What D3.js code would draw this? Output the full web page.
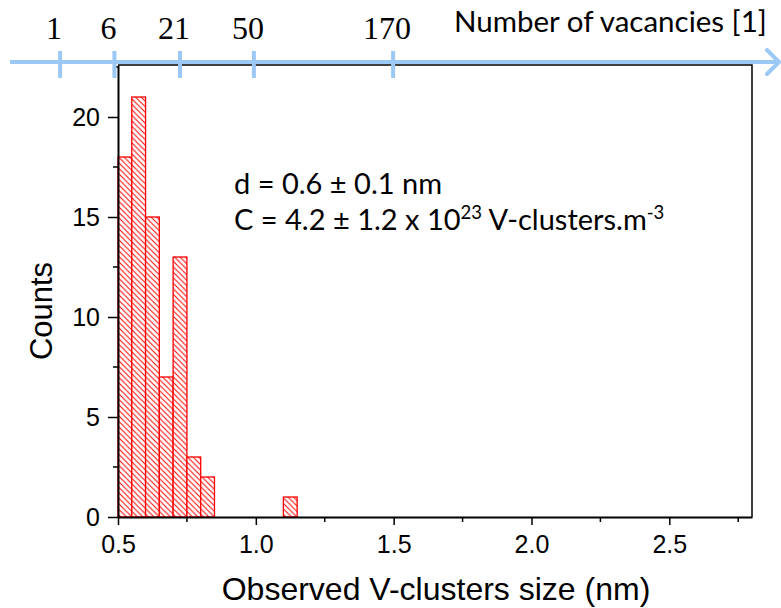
<!DOCTYPE html>
<html><head><meta charset="utf-8">
<script src="https://cdn.jsdelivr.net/npm/d3@7"></script>
<style>body{margin:0;background:#fff}svg{display:block}</style>
</head><body>
<script>
// Histogram bins (nm, lower edge) and counts
const binStarts = [0.50, 0.55, 0.60, 0.65, 0.70, 0.75, 0.80, 1.10];
const counts    = [18,   21,   15,   7,    13,   3,    2,    1];
const binWidth = 0.05;
const xTicks = [0.5, 1.0, 1.5, 2.0, 2.5];
const xMinorTicks = [0.75, 1.25, 1.75, 2.25, 2.75];
const yTicks = [0, 5, 10, 15, 20];
const yMinorTicks = [2.5, 7.5, 12.5, 17.5, 22.5];
// Top axis: number of vacancies and corresponding cluster size (nm)
const vacancyLabels = ["1", "6", "21", "50", "170"];
const vacancySizes  = [0.29, 0.487, 0.725, 0.993, 1.498];

const W = 781, H = 608;
const svg = d3.select("body").append("svg").attr("width", W).attr("height", H);
const x = d3.scaleLinear().domain([0.5, 2.8]).range([118, 752]);
const y = d3.scaleLinear().domain([0, 22.6]).range([517, 65]);

const defs = svg.append("defs");
const pat = defs.append("pattern").attr("id","hatch").attr("patternUnits","userSpaceOnUse")
  .attr("width",5.5).attr("height",5.5);
pat.append("rect").attr("width",5.5).attr("height",5.5).attr("fill","#fff");
pat.append("path").attr("d","M0,0L5.5,5.5M-1,4.5L1,6.5M4.5,-1L6.5,1").attr("stroke","#ff0000").attr("stroke-width",1);

// bars
svg.append("g").selectAll("rect").data(binStarts).join("rect")
  .attr("x", d => x(d)).attr("y", (d,i) => y(counts[i]))
  .attr("width", d => x(d + binWidth) - x(d))
  .attr("height", (d,i) => y(0) - y(counts[i]))
  .attr("fill","url(#hatch)").attr("stroke","#ff0000").attr("stroke-width",1.3);

// frame
svg.append("path").attr("d", `M${x(0.5)},${y(22.6)}H${x(2.8)}V${y(0)}`)
  .attr("fill","none").attr("stroke","#000").attr("stroke-width",1.5);

// x axis
const gx = svg.append("g").attr("transform", `translate(0,${y(0)})`)
  .call(d3.axisBottom(x).tickValues(xTicks).tickFormat(d3.format(".1f")).tickSizeInner(8).tickSizeOuter(0).tickPadding(10));
gx.select(".domain").attr("stroke-width",2);
gx.selectAll(".tick line").attr("stroke-width",1.5);
gx.selectAll("text").attr("font-family","Liberation Sans, Arial, sans-serif").attr("font-size",25).attr("fill","#000");
svg.append("g").selectAll("line").data(xMinorTicks).join("line")
  .attr("x1", d => x(d)).attr("x2", d => x(d)).attr("y1", y(0)).attr("y2", y(0)+5)
  .attr("stroke","#000").attr("stroke-width",1.5);

// y axis
const gy = svg.append("g").attr("transform", `translate(${x(0.5)},0)`)
  .call(d3.axisLeft(y).tickValues(yTicks).tickSizeInner(10).tickSizeOuter(0).tickPadding(8));
gy.select(".domain").attr("stroke-width",2);
gy.selectAll(".tick line").attr("stroke-width",1.5);
gy.selectAll("text").attr("font-family","Liberation Sans, Arial, sans-serif").attr("font-size",25).attr("fill","#000");
svg.append("g").selectAll("line").data(yMinorTicks).join("line")
  .attr("x1", x(0.5)-5).attr("x2", x(0.5)).attr("y1", d => y(d)).attr("y2", d => y(d))
  .attr("stroke","#000").attr("stroke-width",1.5);

// axis titles
svg.append("text").attr("x", 436).attr("y", 600).attr("text-anchor","middle")
  .attr("font-family","Liberation Sans, Arial, sans-serif").attr("font-size",32)
  .text("Observed V-clusters size (nm)");
svg.append("text").attr("transform","translate(52,311) rotate(-90)").attr("text-anchor","middle")
  .attr("font-family","Liberation Sans, Arial, sans-serif").attr("font-size",31)
  .text("Counts");

// annotation
const ann = svg.append("g").attr("font-family","Lato, 'Open Sans', sans-serif").attr("font-size",29).attr("fill","#000");
ann.append("text").attr("x",234).attr("y",194).text("d = 0.6 ± 0.1 nm");
const t2 = ann.append("text").attr("x",234).attr("y",230);
t2.append("tspan").text("C = 4.2 ± 1.2 x 10");
t2.append("tspan").attr("font-size",18.5).attr("dy",-11).text("23");
t2.append("tspan").attr("dy",11).text(" V-clusters.m");
t2.append("tspan").attr("font-size",18.5).attr("dy",-11).text("-3");

// top vacancy axis
const blue = "#9cc8f5";
const topAxis = svg.append("g");
topAxis.append("line").attr("x1",10).attr("x2",779).attr("y1",62).attr("y2",62)
  .attr("stroke",blue).attr("stroke-width",4);
topAxis.append("path").attr("d","M767,50L779,62L767,74").attr("fill","none")
  .attr("stroke",blue).attr("stroke-width",4).attr("stroke-linecap","round").attr("stroke-linejoin","round");
topAxis.selectAll("line.vt").data(vacancySizes).join("line").attr("class","vt")
  .attr("x1", d => x(d)).attr("x2", d => x(d)).attr("y1",51).attr("y2",78)
  .attr("stroke",blue).attr("stroke-width",4);
topAxis.selectAll("text.vl").data(vacancyLabels).join("text").attr("class","vl")
  .attr("x", (d,i) => x(vacancySizes[i]) - 6).attr("y",39).attr("text-anchor","middle")
  .attr("font-family","Liberation Serif, 'Times New Roman', serif").attr("font-size",32)
  .text(d => d);
topAxis.append("text").attr("x",454).attr("y",32).attr("font-family","Lato, 'Open Sans', sans-serif")
  .attr("font-size",29.5).text("Number of vacancies [1]");
</script>
</body></html>
